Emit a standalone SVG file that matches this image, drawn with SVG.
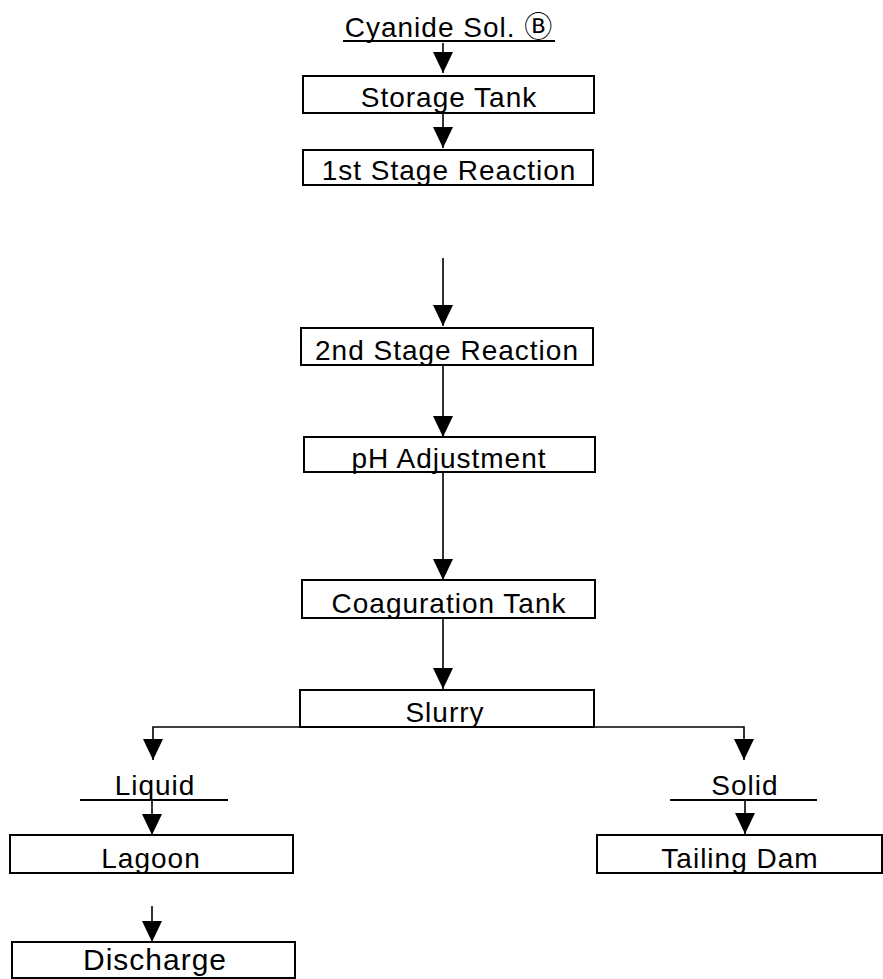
<svg xmlns="http://www.w3.org/2000/svg" width="883" height="979" viewBox="0 0 883 979">
<style>
.box{fill:#fff;stroke:#000;stroke-width:2}
.t{font-family:"Liberation Sans","Noto Sans CJK JP",sans-serif;font-size:28px;letter-spacing:1px;text-anchor:middle;fill:#000}
.big{font-size:30px}
.c{stroke:#000;stroke-width:1.6;fill:none}
.ul{stroke:#000;stroke-width:2}
</style>
<defs>
<marker id="ah" markerUnits="userSpaceOnUse" markerWidth="22" markerHeight="22" refX="21" refY="10" orient="auto">
<path d="M0,0 L21,10 L0,20 Z" fill="#000"/>
</marker>
</defs>
<rect width="883" height="979" fill="#fff"/>

<g id="cyanide">
<text class="t" x="449" y="37">Cyanide Sol. Ⓑ</text>
<line class="ul" x1="343" y1="41" x2="555" y2="41"/>
</g>
<g id="storage">
<rect class="box" x="303" y="76" width="291" height="37"/>
<text class="t" x="449" y="107">Storage Tank</text>
</g>
<g id="stage1">
<rect class="box" x="303" y="150" width="290" height="35"/>
<text class="t" x="449" y="180">1st Stage Reaction</text>
</g>
<g id="stage2">
<rect class="box" x="301" y="328" width="292" height="37"/>
<text class="t" x="447" y="360">2nd Stage Reaction</text>
</g>
<g id="ph">
<rect class="box" x="304" y="437" width="291" height="35"/>
<text class="t" x="449" y="468">pH Adjustment</text>
</g>
<g id="coag">
<rect class="box" x="302" y="580" width="293" height="38"/>
<text class="t" x="449" y="613">Coaguration Tank</text>
</g>
<g id="slurry">
<rect class="box" x="300" y="690" width="294" height="37"/>
<text class="t" x="445" y="722">Slurry</text>
</g>
<g id="liquid">
<text class="t" x="155" y="795">Liquid</text>
<line class="ul" x1="80" y1="800" x2="228" y2="800"/>
</g>
<g id="solid">
<text class="t" x="745" y="795">Solid</text>
<line class="ul" x1="670" y1="800" x2="817" y2="800"/>
</g>
<g id="lagoon">
<rect class="box" x="10" y="835" width="283" height="38"/>
<text class="t" x="151" y="868">Lagoon</text>
</g>
<g id="tailing">
<rect class="box" x="597" y="835" width="285" height="38"/>
<text class="t" x="740" y="868">Tailing Dam</text>
</g>
<g id="discharge">
<rect class="box" x="12" y="942" width="283" height="36"/>
<text class="t big" x="155" y="970">Discharge</text>
</g>

<g id="connectors">
<line class="c" x1="443" y1="43" x2="443" y2="73" marker-end="url(#ah)"/>
<line class="c" x1="443" y1="113" x2="443" y2="148" marker-end="url(#ah)"/>
<line class="c" x1="443" y1="258" x2="443" y2="326" marker-end="url(#ah)"/>
<line class="c" x1="443" y1="365" x2="443" y2="437" marker-end="url(#ah)"/>
<line class="c" x1="443" y1="472" x2="443" y2="580" marker-end="url(#ah)"/>
<line class="c" x1="443" y1="618" x2="443" y2="689" marker-end="url(#ah)"/>
<polyline class="c" points="300,727 153,727 153,760" marker-end="url(#ah)"/>
<polyline class="c" points="594,727 744,727 744,760" marker-end="url(#ah)"/>
<line class="c" x1="152" y1="800" x2="152" y2="835" marker-end="url(#ah)"/>
<line class="c" x1="745" y1="800" x2="745" y2="834" marker-end="url(#ah)"/>
<line class="c" x1="152" y1="906" x2="152" y2="942" marker-end="url(#ah)"/>
</g>
</svg>
